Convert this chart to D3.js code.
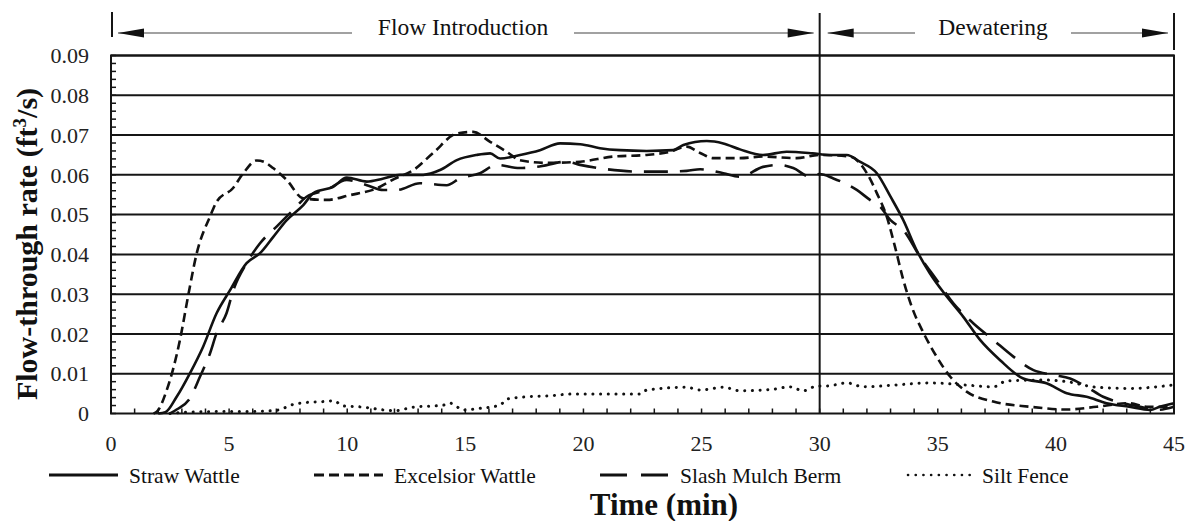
<!DOCTYPE html>
<html><head><meta charset="utf-8">
<script src="https://cdn.jsdelivr.net/npm/d3@7"></script>
<style>
html,body{margin:0;padding:0;background:#fff;}
</style></head>
<body><svg id="c" width="1189" height="521"></svg>
<script>
// ---- data ----
const yTicks = [0, 0.01, 0.02, 0.03, 0.04, 0.05, 0.06, 0.07, 0.08, 0.09];
const yTickLabels = ["0","0.01","0.02","0.03","0.04","0.05","0.06","0.07","0.08","0.09"];
const xTicks = [0, 5, 10, 15, 20, 25, 30, 35, 40, 45];
const seriesNames = ["Straw Wattle", "Excelsior Wattle", "Slash Mulch Berm", "Silt Fence"];
const phaseLabels = ["Flow Introduction", "Dewatering"];
const phaseBounds = [0, 30, 45];

const strawTime = [2.0,2.3,2.78,3.34,3.9,4.47,5.04,5.74,6.31,6.87,7.44,8.14,8.57,9.41,9.98,10.83,11.5,12.23,13.22,13.93,14.64,15.48,16.05,16.47,17.32,18.16,19.01,19.86,20.7,21.55,22.68,23.8,24.23,25.22,25.92,26.63,27.6,28.6,29.7,30.4,31.15,31.7,32.42,33.0,33.54,34.1,34.67,35.38,36.08,36.79,37.64,38.62,39.6,40.46,41.3,42.15,43.1,43.99,44.4,45];
const strawRate = [0,0.0003,0.0042,0.0101,0.0168,0.0252,0.031,0.0378,0.0403,0.0444,0.0486,0.0524,0.0554,0.057,0.0593,0.0583,0.059,0.06,0.06,0.0612,0.0637,0.065,0.0654,0.0641,0.065,0.0662,0.0679,0.0677,0.0667,0.0662,0.066,0.0662,0.0675,0.0685,0.0679,0.0664,0.065,0.0658,0.0654,0.065,0.065,0.0633,0.0604,0.0545,0.0486,0.0411,0.0352,0.0294,0.0243,0.0185,0.0134,0.0088,0.0076,0.0051,0.0042,0.0026,0.0017,0.0009,0.0017,0.0026];

const excelsiorTime = [1.8,1.95,2.36,2.92,3.26,3.63,4.19,4.47,5.17,5.6,6.17,6.5,6.86,7.44,8.13,9.13,10.12,11.25,12.0,12.8,13.64,14.64,15.33,16.05,16.75,17.3,18.45,19.86,21.26,22.68,23.66,24.37,24.94,25.5,26.63,27.6,29.03,30.0,31.29,32.0,32.42,32.84,33.19,33.54,33.9,34.4,34.95,35.52,36.22,37.35,38.9,40.46,41.73,43.1,43.85,45];
const excelsiorRate = [0,0.0005,0.0059,0.0185,0.0294,0.0403,0.0495,0.0532,0.0567,0.0604,0.0636,0.0632,0.0617,0.0587,0.0541,0.0537,0.0549,0.0566,0.059,0.0612,0.0655,0.0704,0.0708,0.0683,0.0658,0.0637,0.063,0.0633,0.0646,0.065,0.0658,0.0671,0.0655,0.0642,0.0642,0.0646,0.0642,0.065,0.0646,0.0604,0.0554,0.0495,0.0419,0.0336,0.0268,0.0202,0.0143,0.0093,0.0055,0.003,0.0017,0.001,0.0017,0.0026,0.0017,0.0017];

const slashTime = [2.5,2.78,3.34,3.77,4.19,4.47,4.89,5.18,5.74,6.31,7.01,7.72,8.28,9.13,9.98,10.83,11.53,12.1,13.08,14.21,14.77,15.62,16.33,17.3,18.02,19.29,19.86,20.99,22.4,23.24,24.37,24.94,25.92,26.63,27.6,28.3,28.88,29.6,30.0,30.58,31.57,32.13,32.56,33.0,33.54,34.25,34.95,35.66,36.5,37.35,38.2,39.05,39.9,40.6,41.3,42.0,42.86,43.57,44.28,45];
const slashRate = [0,0.001,0.0038,0.0093,0.0151,0.0202,0.0252,0.031,0.0378,0.0428,0.047,0.0512,0.0545,0.0562,0.0587,0.0574,0.0562,0.0562,0.0579,0.0574,0.0591,0.0604,0.0625,0.0617,0.062,0.0633,0.0625,0.0614,0.0608,0.0608,0.061,0.0614,0.0604,0.0595,0.062,0.0625,0.0617,0.0595,0.0602,0.0591,0.0562,0.0537,0.052,0.0486,0.0461,0.0394,0.0336,0.0277,0.0227,0.0185,0.0143,0.0109,0.0097,0.0088,0.0067,0.0042,0.0026,0.0017,0.0009,0.0017];

const siltTime = [2.5,3.5,5.0,6.0,7.0,7.79,8.14,9.0,9.41,9.84,10.68,11.53,12.02,12.8,14.07,14.35,14.92,15.62,16.47,16.75,17.6,18.45,19.57,20.42,22.4,22.68,24.37,24.94,25.93,26.63,28.04,28.74,29.31,29.88,30.3,31.15,31.85,33.26,34.67,36.08,37.35,37.92,39.6,40.46,41.73,43.1,45];
const siltRate = [0,0.0004,0.0005,0.0005,0.0008,0.0024,0.0027,0.003,0.0032,0.0019,0.0016,0.0009,0.0007,0.0016,0.0021,0.0026,0.0009,0.0013,0.0021,0.0036,0.0042,0.0044,0.0049,0.0049,0.0049,0.0059,0.0066,0.0059,0.0066,0.0057,0.0061,0.0067,0.0057,0.0069,0.0069,0.0077,0.0067,0.0072,0.0077,0.0072,0.0067,0.0082,0.0084,0.008,0.0066,0.0063,0.0072];

// ---- styles ----
const FONT = "Liberation Serif";
const styles = [
  {dash: null, w: 2.6, cap: "butt"},
  {dash: "9,5", w: 2.6, cap: "butt"},
  {dash: "24,12", w: 2.6, cap: "butt"},
  {dash: "0.1,7.6", w: 3, cap: "round"}
];
const series = [
  {name: seriesNames[0], t: strawTime, v: strawRate},
  {name: seriesNames[1], t: excelsiorTime, v: excelsiorRate},
  {name: seriesNames[2], t: slashTime, v: slashRate},
  {name: seriesNames[3], t: siltTime, v: siltRate}
];

const svg = d3.select("#c");
const L = 111, R = 1174, T = 55.5, B = 413.5;
const x = d3.scaleLinear().domain([0, 45]).range([L, R]);
const y = d3.scaleLinear().domain([0, 0.09]).range([B, T]);
const ink = "#151515";

svg.append("g").selectAll("line").data(yTicks.slice(1)).join("line")
  .attr("x1", L).attr("x2", R).attr("y1", d => y(d)).attr("y2", d => y(d))
  .attr("stroke", ink).attr("stroke-width", 2);

const yMinor = d3.range(0, 0.0901, 0.002);
svg.append("g").selectAll("line").data(yMinor).join("line")
  .attr("x1", L).attr("x2", L + 5).attr("y1", d => y(d)).attr("y2", d => y(d))
  .attr("stroke", ink).attr("stroke-width", 1.5);
const xMinor = d3.range(0, 46, 1);
svg.append("g").selectAll("line").data(xMinor).join("line")
  .attr("x1", d => x(d)).attr("x2", d => x(d)).attr("y1", B).attr("y2", B - 5)
  .attr("stroke", ink).attr("stroke-width", 1.5);

svg.append("rect").attr("x", L).attr("y", T).attr("width", R - L).attr("height", B - T)
  .attr("fill", "none").attr("stroke", ink).attr("stroke-width", 2);

svg.append("line").attr("x1", x(30)).attr("x2", x(30)).attr("y1", 13).attr("y2", B)
  .attr("stroke", ink).attr("stroke-width", 2);
svg.append("line").attr("x1", x(0) + 1).attr("x2", x(0) + 1).attr("y1", 12).attr("y2", 37)
  .attr("stroke", ink).attr("stroke-width", 2);
svg.append("line").attr("x1", x(45)).attr("x2", x(45)).attr("y1", 13).attr("y2", 50)
  .attr("stroke", ink).attr("stroke-width", 2);

const line = d3.line().x(d => x(d[0])).y(d => y(d[1])).curve(d3.curveMonotoneX);
series.forEach((s, i) => {
  const pts = s.t.map((t, k) => [t, s.v[k]]);
  svg.append("path").attr("d", line(pts)).attr("fill", "none")
    .attr("stroke", "#111").attr("stroke-width", styles[i].w)
    .attr("stroke-linecap", styles[i].cap).attr("stroke-linejoin", "round")
    .attr("stroke-dasharray", styles[i].dash);
});

function txt(sel) { return sel.attr("font-family", FONT).attr("fill", "#111"); }

svg.append("g").selectAll("text").data(yTicks).join("text")
  .attr("font-family", FONT).attr("fill", "#222")
  .attr("x", 89).attr("y", d => y(d)).attr("dy", "0.35em")
  .attr("text-anchor", "end").attr("font-size", 22)
  .text((d, i) => yTickLabels[i]);
svg.append("g").selectAll("text").data(xTicks).join("text")
  .attr("font-family", FONT).attr("fill", "#222")
  .attr("x", d => x(d)).attr("y", 443).attr("dy", "0.35em")
  .attr("text-anchor", "middle").attr("font-size", 22)
  .text(d => d);

const yt = txt(svg.append("text")).attr("transform", "translate(37,244) rotate(-90)")
  .attr("text-anchor", "middle").attr("font-size", 30).attr("font-weight", "bold");
yt.append("tspan").text("Flow-through rate (ft");
yt.append("tspan").attr("font-size", 19).attr("dy", -11).text("3");
yt.append("tspan").attr("dy", 11).text("/s)");
txt(svg.append("text")).attr("x", 664).attr("y", 515).attr("text-anchor", "middle")
  .attr("font-size", 31).attr("font-weight", "bold").text("Time (min)");

const arrowY = 33;
function arrowHead(tipX, dir) {
  const len = 26, hw = 4.5;
  const p = d3.path();
  p.moveTo(tipX, arrowY);
  p.lineTo(tipX + dir * len, arrowY - hw);
  p.lineTo(tipX + dir * len, arrowY + hw);
  p.closePath();
  svg.append("path").attr("d", p.toString()).attr("fill", "#111");
}
function phase(x0, x1, label, gap0, gap1, cx) {
  svg.append("line").attr("x1", x0).attr("x2", gap0).attr("y1", arrowY).attr("y2", arrowY)
    .attr("stroke", "#444").attr("stroke-width", 1.2);
  svg.append("line").attr("x1", gap1).attr("x2", x1).attr("y1", arrowY).attr("y2", arrowY)
    .attr("stroke", "#444").attr("stroke-width", 1.2);
  arrowHead(x0, 1); arrowHead(x1, -1);
  txt(svg.append("text")).attr("x", cx).attr("y", 35).attr("text-anchor", "middle")
    .attr("font-size", 23.5).text(label);
}
phase(x(phaseBounds[0]) + 7, x(phaseBounds[1]) - 6, phaseLabels[0], 352, 574, 463);
phase(x(phaseBounds[1]) + 8, x(phaseBounds[2]) - 6, phaseLabels[1], 915, 1071, 993);

const legendX = [49, 314, 600, 908];
const legendLen = [69, 69, 69, 63];
const lg = svg.append("g");
series.forEach((s, i) => {
  lg.append("line").attr("x1", legendX[i]).attr("x2", legendX[i] + legendLen[i])
    .attr("y1", 475).attr("y2", 475).attr("stroke", "#111")
    .attr("stroke-width", i === 3 ? 2.6 : 3.2)
    .attr("stroke-linecap", styles[i].cap)
    .attr("stroke-dasharray", i === 1 ? "10,5" : i === 2 ? "27,14" : styles[i].dash);
  txt(lg.append("text")).attr("x", legendX[i] + legendLen[i] + 11).attr("y", 475).attr("dy", "0.35em")
    .attr("font-size", 21.5).text(s.name);
});
</script></body></html>
